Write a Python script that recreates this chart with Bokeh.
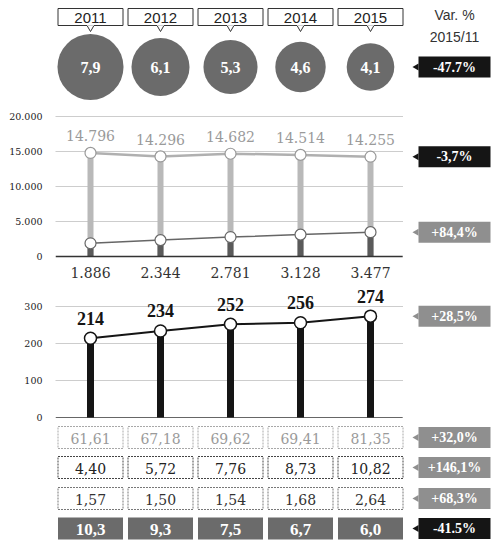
import numpy as np
from bokeh.plotting import figure
from bokeh.layouts import column
from bokeh.models import Range1d, FixedTicker
from bokeh.core.properties import value
from bokeh.embed import file_html
from bokeh.resources import INLINE

# ---- data -------------------------------------------------------------
years = ["2011", "2012", "2013", "2014", "2015"]
var_title = ["Var. %", "2015/11"]

bubble_vals = [7.9, 6.1, 5.3, 4.6, 4.1]
bubble_var = "-47.7%"

upper_vals = [14796, 14296, 14682, 14514, 14255]
upper_var = "-3,7%"
lower_vals = [1886, 2344, 2781, 3128, 3477]
lower_var = "+84,4%"
mid_ticks = [0, 5000, 10000, 15000, 20000]

third_vals = [214, 234, 252, 256, 274]
third_var = "+28,5%"
third_ticks = [0, 100, 200, 300]

row1_vals = [61.61, 67.18, 69.62, 69.41, 81.35]
row1_var = "+32,0%"
row2_vals = [4.40, 5.72, 7.76, 8.73, 10.82]
row2_var = "+146,1%"
row3_vals = [1.57, 1.50, 1.54, 1.68, 2.64]
row3_var = "+68,3%"
row4_vals = [10.3, 9.3, 7.5, 6.7, 6.0]
row4_var = "-41.5%"

# ---- helpers ----------------------------------------------------------
SERIF_REG_NAME = "DejaVu Serif"
SERIF_REG = value(SERIF_REG_NAME)          # regular-weight serif text
SERIF_BOLD = value("Liberation Serif")     # bold serif text
SANS = value("Liberation Sans")
W = 500
LEFT = 55
X_RANGE = (-0.5, (W - LEFT - 35) / 70.0)
TAG_X = 5.2
GRID_END = 4.46
idx = list(range(len(years)))


def fmt(v, dec=0):
    s = f"{v:,.{dec}f}"
    return s.replace(",", "X").replace(".", ",").replace("X", ".")


def make_fig(height, y_range, axis=False):
    p = figure(width=W, height=height, x_range=Range1d(*X_RANGE),
               y_range=y_range, output_backend="svg", toolbar_location=None,
               x_axis_location=None,
               y_axis_location="left" if axis else None,
               min_border_left=LEFT, min_border_right=0,
               min_border_top=0, min_border_bottom=0)
    p.outline_line_color = None
    p.xgrid.visible = False
    p.ygrid.visible = False
    p.background_fill_color = "white"
    p.border_fill_color = "white"
    return p


def style_axis(p, ticks, labels):
    ax = p.yaxis[0]
    ax.ticker = FixedTicker(ticks=ticks)
    ax.major_label_overrides = {t: l for t, l in zip(ticks, labels)}
    ax.axis_line_color = None
    ax.major_tick_line_color = None
    ax.minor_tick_line_color = None
    ax.major_label_text_font = SERIF_REG_NAME
    ax.major_label_text_font_size = "9.5px"
    ax.major_label_text_color = "#222"
    ax.major_label_standoff = 7


def tag(p, y, text, color):
    p.rect(x=[TAG_X], y=[y], width=72, height=21, width_units="screen",
           height_units="screen", fill_color=color, line_color=None)
    p.scatter(x=[TAG_X - 38 / 70], y=[y], marker="triangle", size=7,
              angle=np.pi / 2, fill_color=color, line_color=None)
    p.text(x=[TAG_X], y=[y], text=[text], text_color="white",
           text_font=SERIF_BOLD, text_font_style="bold", text_font_size="14px",
           text_align="center", text_baseline="middle")


GRAY_TAG = "#8f8f8f"
BLACK_TAG = "#151515"

# ---- top: years and bubbles -------------------------------------------
top = make_fig(108, Range1d(108, 0))
top.rect(x=idx, y=[16.5] * 5, width=65, height=17, width_units="screen",
         height_units="screen", fill_color="white", line_color="#333",
         line_width=1)
top.scatter(x=idx, y=[27] * 5, marker="inverted_triangle", size=7,
            fill_color="white", line_color="#333", line_width=1)
top.rect(x=idx, y=[24.2] * 5, width=7, height=2, width_units="screen",
         height_units="screen", fill_color="white", line_color=None)
top.text(x=idx, y=[17] * 5, text=years, text_font=SANS,
         text_font_size="15px", text_color="#222", text_align="center",
         text_baseline="middle")
top.text(x=[TAG_X, TAG_X], y=[14, 36], text=var_title, text_font=SANS,
         text_font_size="14px", text_color="#333", text_align="center",
         text_baseline="middle")
sizes = [23.5 * np.sqrt(v) for v in bubble_vals]
top.scatter(x=idx, y=[66.5] * 5, size=sizes, marker="circle",
            fill_color="#6b6b6b", line_color=None)
top.text(x=idx, y=[67] * 5, text=[fmt(v, 1) for v in bubble_vals],
         text_font=SERIF_BOLD, text_font_style="bold", text_font_size="16px",
         text_color="white", text_align="center", text_baseline="middle")
tag(top, 66.5, bubble_var, BLACK_TAG)

# ---- middle: two lollipop series -------------------------------------
mid = make_fig(174, Range1d(-3714, 21143), axis=True)
style_axis(mid, mid_ticks, [fmt(t) for t in mid_ticks])
grid_t = mid_ticks[1:]
mid.segment(x0=[-0.5] * len(grid_t), x1=[GRID_END] * len(grid_t), y0=grid_t,
            y1=grid_t, line_color="#9a9a9a", line_width=1, line_dash="1 1")
mid.vbar(x=idx, top=upper_vals, bottom=0, width=6 / 70,
         fill_color="#b9b9b9", line_color=None)
mid.line(x=idx, y=upper_vals, line_color="#b0b0b0", line_width=2.5)
mid.vbar(x=idx, top=lower_vals, bottom=0, width=6 / 70,
         fill_color="#5a5a5a", line_color=None)
mid.segment(x0=[-0.5], x1=[GRID_END], y0=[0], y1=[0], line_color="#333",
            line_width=1.5)
mid.scatter(x=idx, y=upper_vals, size=11, marker="circle",
            fill_color="white", line_color="#999", line_width=1.2)
mid.line(x=idx, y=lower_vals, line_color="#666", line_width=1.5)
mid.scatter(x=idx, y=lower_vals, size=11, marker="circle",
            fill_color="white", line_color="#666", line_width=1.2)
mid.text(x=idx, y=upper_vals, text=[fmt(v) for v in upper_vals],
         y_offset=-17, text_font=SERIF_REG, text_font_size="14px",
         text_color="#9a9a9a", text_align="center", text_baseline="middle")
mid.text(x=idx, y=[0] * 5, text=[fmt(v) for v in lower_vals], y_offset=16,
         text_font=SERIF_REG, text_font_size="14px", text_color="#333",
         text_align="center", text_baseline="middle")
tag(mid, upper_vals[-1], upper_var, BLACK_TAG)
tag(mid, lower_vals[-1], lower_var, GRAY_TAG)

# ---- third: black lollipops ------------------------------------------
third = make_fig(143, Range1d(-21.6, 364.9), axis=True)
style_axis(third, third_ticks, [str(t) for t in third_ticks])
g3 = third_ticks[1:]
third.segment(x0=[-0.5] * len(g3), x1=[GRID_END] * len(g3), y0=g3, y1=g3,
              line_color="#9a9a9a", line_width=1, line_dash="1 1")
third.segment(x0=[-0.5], x1=[GRID_END], y0=[0], y1=[0], line_color="#666",
              line_width=1)
third.vbar(x=idx, top=third_vals, bottom=0, width=7 / 70,
           fill_color="#151515", line_color=None)
third.line(x=idx, y=third_vals, line_color="#151515", line_width=2)
third.scatter(x=idx, y=third_vals, size=12, marker="circle",
              fill_color="white", line_color="#151515", line_width=1.5)
third.text(x=idx, y=third_vals, text=[str(v) for v in third_vals],
           y_offset=-20, text_font=SERIF_BOLD, text_font_style="bold",
           text_font_size="18px", text_color="#151515", text_align="center",
           text_baseline="middle")
tag(third, third_vals[-1], third_var, GRAY_TAG)

# ---- bottom: value table ---------------------------------------------
table = make_fig(116, Range1d(116, 0))
rows = [
    (row1_vals, row1_var, 12, "white", "#a8a8a8", "#9a9a9a", GRAY_TAG),
    (row2_vals, row2_var, 42, "white", "#444", "#222", GRAY_TAG),
    (row3_vals, row3_var, 73, "white", "#777", "#333", GRAY_TAG),
    (row4_vals, row4_var, 103, "#6b6b6b", None, "white", BLACK_TAG),
]
for k, (vals, var, y, fill, border, tcol, tagc) in enumerate(rows):
    dec = 1 if k == 3 else 2
    bold = k == 3
    table.rect(x=idx, y=[y] * 5, width=65, height=22, width_units="screen",
               height_units="screen", fill_color=fill, line_color=border,
               line_width=1, line_dash="2 1")
    table.text(x=idx, y=[y + 0.5] * 5, text=[fmt(v, dec) for v in vals],
               text_font=SERIF_BOLD if bold else SERIF_REG,
               text_font_size="17px" if bold else "14px", text_color=tcol,
               text_font_style="bold" if bold else "normal",
               text_align="center", text_baseline="middle")
    tag(table, y, var, tagc)

layout = column(top, mid, third, table, spacing=0)
open("out.html", "w").write(file_html(layout, INLINE))
